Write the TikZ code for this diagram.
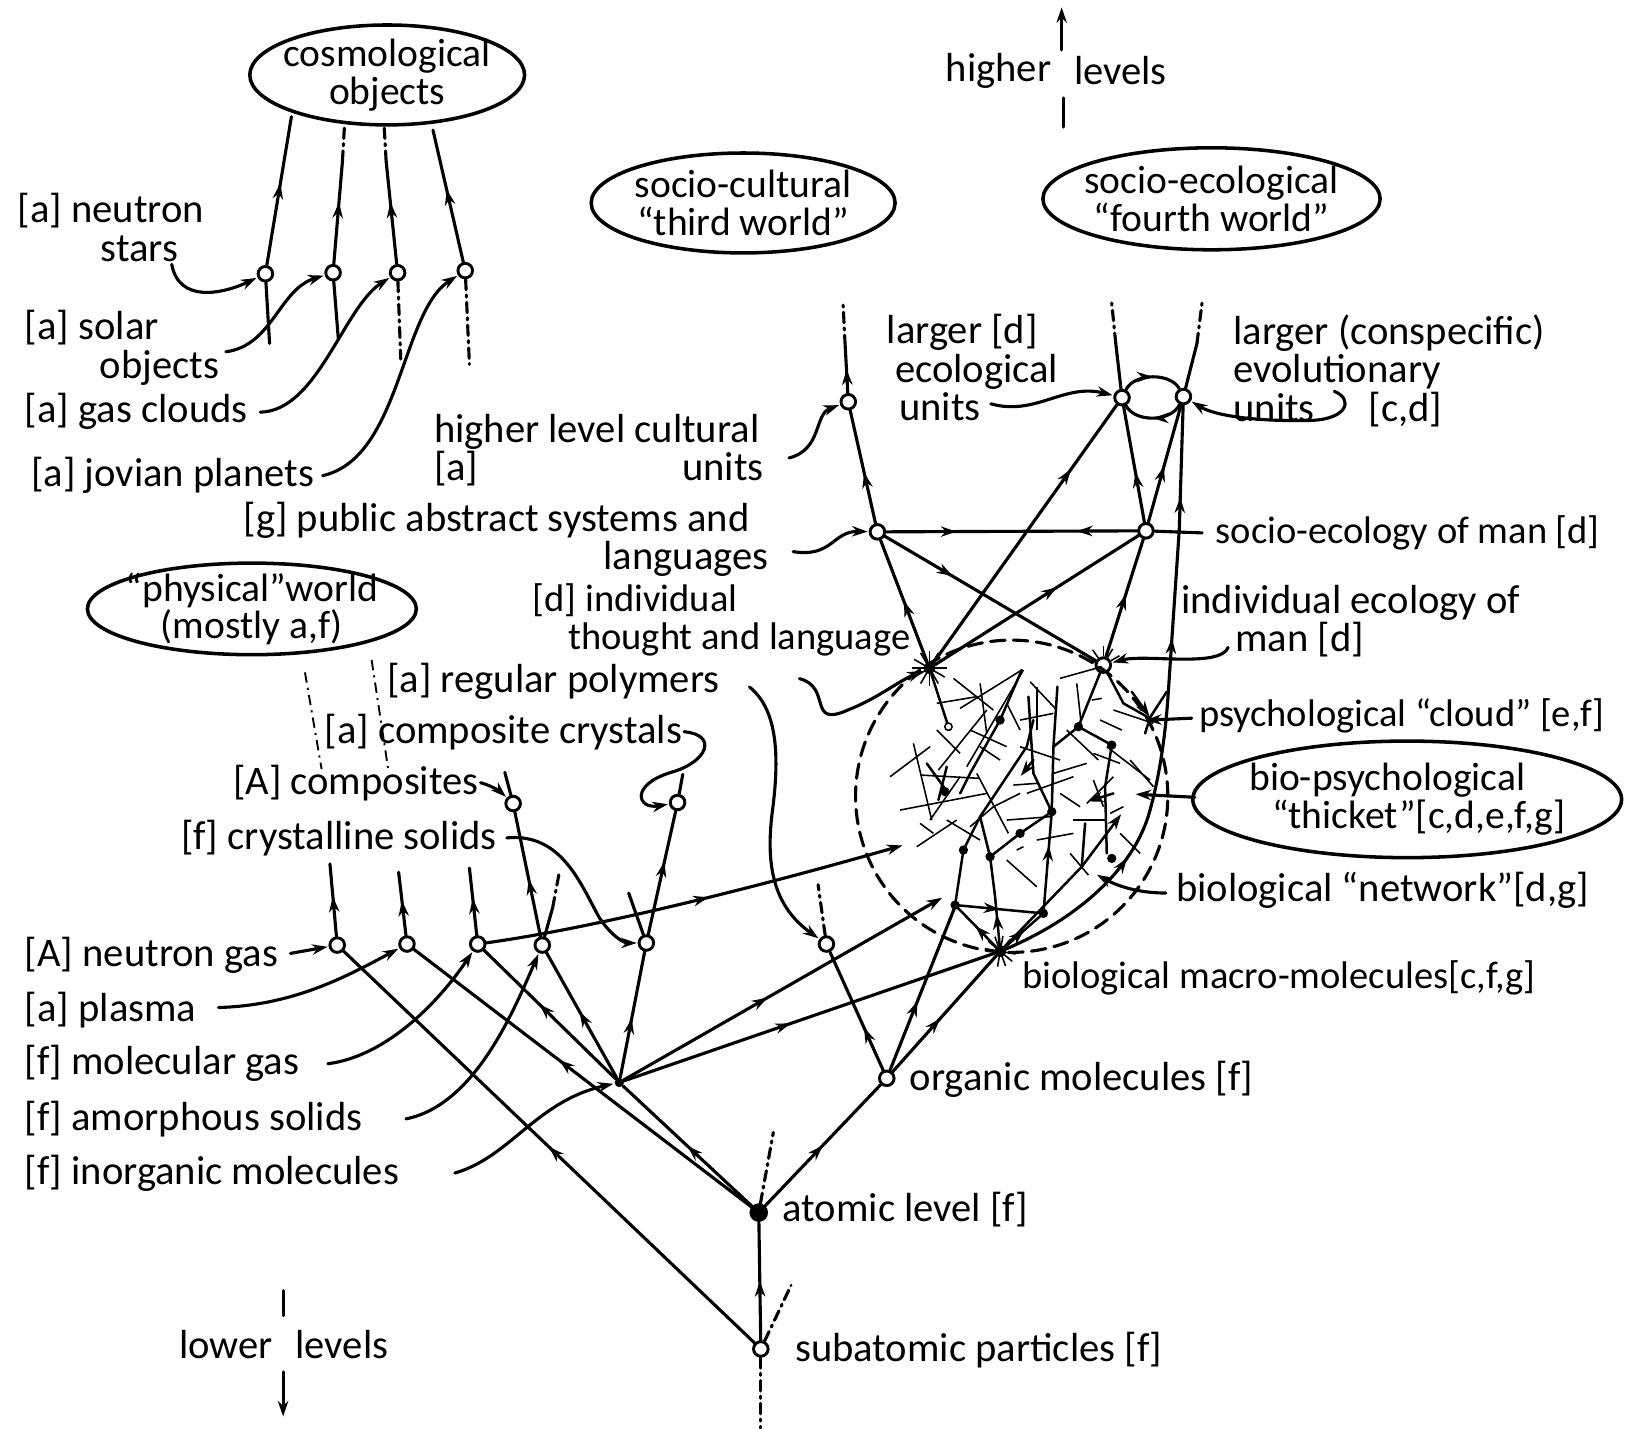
\documentclass[tikz,border=0pt]{standalone}
\usepackage{fontspec}
\setmainfont{Carlito}
\usetikzlibrary{arrows.meta,decorations.markings}
\newcommand\tightls{\lineskiplimit-30pt\relax\lineskip0pt\relax}
\tikzset{
 ln/.style={line width=1.5pt, line cap=round},
 tk/.style={line width=1.2pt, line cap=round},
 tl/.style={line width=0.75pt},
 ol/.style={line width=1.7pt},
 ar/.style={-{Stealth[length=7.5pt,width=5pt]}, shorten >=0.5pt},
 mida/.style={postaction={decorate,decoration={markings,mark=at position #1 with {\arrow{Stealth[length=7.5pt,width=5pt]}}}}},
 mida/.default=0.5,
 midr/.style={postaction={decorate,decoration={markings,mark=at position #1 with {\arrowreversed{Stealth[length=7.5pt,width=5pt]}}}}},
 midr/.default=0.5,
 dd/.style={dash pattern=on 5pt off 2.5pt on 1pt off 2.5pt},
 hub/.style={circle,draw,fill=white,line width=1.4pt,inner sep=0pt,minimum size=7pt},
 hubf/.style={circle,draw,fill=black,line width=1.4pt,inner sep=0pt,minimum size=7.5pt},
 blk/.style={circle,fill=black,inner sep=0pt,minimum size=5.5pt},
 lbl/.style={inner sep=0pt,outer sep=1pt},
 sm/.style={font=\fontsize{18.5}{18}\selectfont\tightls},
 ins/.style={inner sep=0pt,outer sep=1pt,font=\fontsize{19}{18}\selectfont\tightls},
}
\begin{document}
\begin{tikzpicture}[x=0.5pt,y=-0.5pt,font=\fontsize{19.5}{18.5}\selectfont\tightls]
\useasboundingbox (0,0) rectangle (1568,1372);

% ---------- ellipse labels ----------
\node[ins,align=center] (cosmo) at (372,72) {cosmological\\objects};
\draw[ol] (cosmo.center) ellipse [x radius=66pt, y radius=24pt];
\node[ins,align=center] (third) at (714,195) {socio-cultural\\“third world”};
\draw[ol] (third.center) ellipse [x radius=73pt, y radius=24pt];
\node[ins,align=center] (fourth) at (1164,191) {socio-ecological\\“fourth world”};
\draw[ol] (fourth.center) ellipse [x radius=81pt, y radius=24.5pt];
\node[ins,align=center] (phys) at (242,585) {“physical”world\\(mostly a,f)};
\draw[ol] (phys.center) ellipse [x radius=79pt, y radius=22pt];
\node[ins,align=left] (bp) at (1352,768) {bio-psychological\\\hspace*{11pt}“thicket”[c,d,e,f,g]};
\draw[ol] (bp.center) ellipse [x radius=103pt, y radius=28pt];

% ---------- text labels ----------
\node[lbl,anchor=east] (thl1) at (1012,68) {higher};
\node[lbl,anchor=west] (thl2) at (1030,68) {levels};
\node[lbl,anchor=north west,align=left] (tns) at (15,184) {[a] neutron\\\hspace*{40pt}stars};
\node[lbl,anchor=north west,align=left] (tso) at (22,296) {[a] solar\\\hspace*{36pt}objects};
\node[lbl,anchor=west] (tgc) at (22,395) {[a] gas clouds};
\node[lbl,anchor=west] (tjp) at (28,457) {[a] jovian planets};
\node[lbl,anchor=north west,align=left] (tcu) at (415,396) {higher level cultural\\{}[a]\hspace*{98pt}units};
\node[lbl,anchor=north west,align=left] (tpa) at (232,480) {[g] public abstract systems and\\\hspace*{173pt}languages};
\node[lbl,sm,anchor=north west,align=left] (tit) at (510,559) {[d] individual\\\hspace*{17pt}thought and language};
\node[lbl,anchor=west] (trp) at (370,655) {[a] regular polymers};
\node[lbl,anchor=west] (tcc) at (310,703) {[a] composite crystals};
\node[lbl,anchor=west] (tco) at (222,752) {[A] composites};
\node[lbl,anchor=west] (tcr) at (172,805) {[f] crystalline solids};
\node[lbl,anchor=west] (tng) at (22,918) {[A] neutron gas};
\node[lbl,anchor=west] (tpl) at (22,970) {[a] plasma};
\node[lbl,anchor=west] (tmg) at (22,1022) {[f] molecular gas};
\node[lbl,anchor=west] (tam) at (22,1075) {[f] amorphous solids};
\node[lbl,anchor=west] (tim) at (22,1127) {[f] inorganic molecules};
\node[lbl,anchor=east] (tll1) at (264,1292) {lower};
\node[lbl,anchor=west] (tll2) at (282,1292) {levels};
\node[lbl,anchor=west] (tsp) at (762,1297) {subatomic particles [f]};
\node[lbl,anchor=west] (tal) at (750,1162) {atomic level [f]};
\node[lbl,anchor=west] (tom) at (872,1037) {organic molecules [f]};
\node[lbl,sm,anchor=west] (tbm) at (980,940) {biological macro-molecules[c,f,g]};
\node[lbl,anchor=west] (tnw) at (1128,855) {biological “network”[d,g]};
\node[lbl,sm,anchor=west] (tpc) at (1150,688) {psychological “cloud” [e,f]};
\node[lbl,anchor=north west,align=left] (tie) at (1133,560) {individual ecology of\\\hspace*{26pt}man [d]};
\node[lbl,sm,anchor=west] (tse) at (1166,512) {socio-ecology of man [d]};
\node[lbl,anchor=north west,align=left] (tev) at (1183,300) {larger (conspecific)\\evolutionary\\units\hspace*{26pt}[c,d]};
\node[lbl,anchor=north west,align=left] (tet) at (850,300) {larger [d]\\\hspace*{4pt}ecological\\\hspace*{6pt}units};

% ---------- graph nodes ----------
\node[hub] (c1) at (255,263) {};
\node[hub] (c2) at (320,262) {};
\node[hub] (c3) at (382,262) {};
\node[hub] (c4) at (447,260) {};
\node[hub] (CU) at (815,386) {};
\node[hub] (PA) at (843,511) {};
\node[hub] (ET) at (1078,382) {};
\node[hub] (EV) at (1137,381) {};
\node[hub] (SE) at (1101,510) {};
\node[blk] (IT) at (893,642) {};
\node[hub] (IE) at (1060,639) {};
\node[blk] (BM) at (961,914) {};
\node[hub] (OM) at (852,1036) {};
\node[hubf] (AL) at (729,1165) {};
\node[hub] (SP) at (731,1296) {};
\node[blk,minimum size=4.5pt] (IM) at (595,1040) {};
\node[hub] (ng) at (324,908) {};
\node[hub] (pl) at (391,907) {};
\node[hub] (mg) at (459,907) {};
\node[hub] (am) at (521,908) {};
\node[hub] (cr) at (621,906) {};
\node[hub] (co) at (493,772) {};
\node[hub] (cc) at (651,771) {};
\node[hub] (rp) at (794,907) {};

% ---------- free ends ----------
\coordinate (hu1) at (1020,48); \coordinate (hu2) at (1020,6);
\coordinate (hu3) at (1022,94); \coordinate (hu4) at (1022,122);
\coordinate (lo1) at (272,1240); \coordinate (lo2) at (272,1264);
\coordinate (lo3) at (272,1318); \coordinate (lo4) at (272,1362);
\coordinate (c1t) at (280,112); \coordinate (c1b) at (259,330);
\coordinate (c2m) at (329,155); \coordinate (c2t) at (331,120); \coordinate (c2b) at (325,325);
\coordinate (c3m) at (371,155); \coordinate (c3t) at (369,120); \coordinate (c3b) at (385,345);
\coordinate (c4t) at (416,125); \coordinate (c4b) at (451,350);
\coordinate (pns) at (165,254); \coordinate (pso) at (217,338);
\coordinate (pgc) at (250,396); \coordinate (pjp) at (310,457);
\coordinate (pcu) at (758,440); \coordinate (ppa) at (762,530);
\coordinate (pit) at (768,652); \coordinate (pet) at (952,388);
\coordinate (pev) at (1282,376); \coordinate (pie) at (1180,622);
\coordinate (pse) at (1155,512);
\coordinate (ppc) at (1145,690); \coordinate (ppc2) at (1100,692);
\coordinate (bpw) at (1148,766); \coordinate (pbt2) at (1090,763);
\coordinate (pnw) at (1120,858); \coordinate (pnw2) at (1053,840);
\coordinate (png) at (279,916); \coordinate (ppl) at (210,968);
\coordinate (pmg) at (315,1022); \coordinate (pam) at (390,1075);
\coordinate (pim) at (437,1127); \coordinate (pcr) at (487,805);
\coordinate (prp) at (720,660);
\coordinate (cum) at (812,332); \coordinate (cut) at (810,292);
\coordinate (etm) at (1072,330); \coordinate (ett) at (1068,290);
\coordinate (evm) at (1150,330); \coordinate (evt) at (1155,290);
\coordinate (ev1) at (1133,509); \coordinate (ev2) at (1122,672); \coordinate (ev3) at (1103,785);
\coordinate (spu) at (760,1235); \coordinate (spd) at (731,1372);
\coordinate (alu) at (743,1088);
\coordinate (cot) at (485,742); \coordinate (cct) at (656,744);
\coordinate (crs) at (604,858);
\coordinate (ams) at (531,872); \coordinate (amt) at (537,840);
\coordinate (ngt) at (317,830); \coordinate (plt) at (383,838); \coordinate (mgt) at (451,834);
\coordinate (mge) at (868,812); \coordinate (ime) at (906,862);
\coordinate (rpt) at (786,850); \coordinate (td1) at (918,870);
\coordinate (pw1a) at (293,646); \coordinate (pw1b) at (309,739);
\coordinate (pw2a) at (357,634); \coordinate (pw2b) at (373,739);

% ---------- level arrows ----------
\draw[ln,ar] (hu1) -- (hu2);
\draw[ln] (hu3) -- (hu4);
\draw[ln] (lo1) -- (lo2);
\draw[ln,ar] (lo3) -- (lo4);

% ---------- cosmological branch ----------
\draw[ln,mida=0.55] (c1) -- (c1t);
\draw[ln] (c1) -- (c1b);
\draw[ln,mida=0.6] (c2) -- (c2m); \draw[ln,dd] (c2m) -- (c2t);
\draw[ln] (c2) -- (c2b);
\draw[ln,mida=0.6] (c3) -- (c3m); \draw[ln,dd] (c3m) -- (c3t);
\draw[ln,dd] (c3) -- (c3b);
\draw[ln,mida=0.55] (c4) -- (c4t);
\draw[ln,dd] (c4) -- (c4b);
\draw[ln,ar] (pns) .. controls (172,292) and (215,282) .. (c1);
\draw[ln,ar] (pso) .. controls (262,332) and (268,278) .. (c2);
\draw[ln,ar] (pgc) .. controls (305,395) and (330,295) .. (c3);
\draw[ln,ar] (pjp) .. controls (385,440) and (385,300) .. (c4);

% ---------- physical world lines ----------
\draw[line width=0.9pt,dd] (pw1a) -- (pw1b);
\draw[line width=0.9pt,dd] (pw2a) -- (pw2b);

% ---------- upper network ----------
\draw[ln,mida=0.5] (CU) -- (cum); \draw[ln,dd] (cum) -- (cut);
\draw[ln] (ET) -- (etm); \draw[ln,dd] (etm) -- (ett);
\draw[ln] (EV) -- (evm); \draw[ln,dd] (evm) -- (evt);
\draw[ln,mida=0.5] (ET) .. controls (1090,358) and (1125,358) .. (EV);
\draw[ln,mida=0.5] (EV) .. controls (1125,406) and (1090,406) .. (ET);
\draw[ln,mida=0.45] (PA) -- (CU);
\draw[ln,mida=0.5] (IT) -- (PA);
\draw[ln,mida=0.6] (IT) -- (SE);
\draw[ln,mida=0.32] (PA) -- (IE);
\draw[ln,mida=0.28,midr=0.76] (PA) -- (SE);
\draw[ln,mida=0.75] (IT) -- (ET);
\draw[ln,mida=0.53] (IE) -- (SE);
\draw[ln,mida=0.43] (SE) -- (ET);
\draw[ln,mida=0.48] (SE) -- (EV);
\draw[ln,mida=0.25,mida=0.62,mida=0.85] (BM) .. controls (1030,885) and (1085,840) .. (ev3) .. controls (1115,745) and (1120,700) .. (ev2) -- (ev1) -- (EV);
\draw[ln] (pse) -- (SE);
\draw[ln,ar] (pcu) .. controls (790,432) and (782,398) .. (CU);
\draw[ln,ar] (ppa) .. controls (800,536) and (800,510) .. (PA);
\draw[ln,ar] (pit) .. controls (800,660) and (775,700) .. (815,682) .. controls (845,670) and (862,655) .. (IT);
\draw[ln,ar] (pet) .. controls (995,400) and (1022,368) .. (ET);
\draw[ln,ar] (pev) .. controls (1300,383) and (1296,403) .. (1258,404) .. controls (1210,405) and (1168,400) .. (EV);
\draw[ln,ar] (pie) .. controls (1172,642) and (1100,628) .. (IE);
\draw[ln,ar] (ppc) -- (ppc2);
\draw[ln,ar] (bpw) -- (pbt2);
\draw[ln,ar] (pnw) .. controls (1095,858) and (1075,852) .. (pnw2);

% ---------- thicket ----------
\draw[ln,dash pattern=on 7pt off 4pt] (972,765) ellipse [x radius=75pt, y radius=75pt];
\foreach \a in {0,30,...,330} \draw[tl] (IT.center) -- +(\a:17);
\foreach \a in {10,40,...,340} \draw[tl] (BM.center) -- +(\a:15);
\foreach \a in {200,235,270,300,330} \draw[tl] (IE) -- +(\a:18);
\begin{scope}[shift={(787.9,595.7)},scale=0.3203]
\draw[tk,mida=0.5] (BM) -- (405,855);
\draw[tk] (405,855) -- (430,690) -- (480,590) -- (560,470) -- (620,380) -- (640,300);
\draw[tk,mida=0.35] (BM) -- (525,830) -- (510,710);
\draw[tk] (510,710) -- (480,590);
\draw[tk] (510,710) -- (600,640) -- (695,575);
\draw[tk,mida=0.5] (BM) -- (670,880);
\draw[tk,mida=0.5] (405,855) -- (670,880);
\draw[tk,mida=0.3] (670,880) -- (695,575) -- (700,380) -- (712,200);
\draw[tk] (695,575) -- (640,460) -- (625,230);
\draw[tk,ar] (BM) -- (785,740) -- (905,580);
\draw[tk] (785,740) -- (795,610);
\draw[tk] (775,320) -- (IE);
\draw[tk] (875,375) -- (775,320) -- (700,380);
\draw[tk] (875,375) -- (855,500) -- (860,700);
\draw[tk] (540,300) -- (605,150);
\draw[tk] (540,300) -- (450,460) -- (420,520);
\draw[tk] (IT) -- (385,320);
\draw[tk] (320,430) -- (385,520);
\draw[tk] (380,440) -- (355,540);
\draw[tk] (IE) -- (910,250) -- (990,295);
\draw[tk,ar] (935,215) -- (990,292);
\draw[tk] (990,292) -- (1040,215);
\draw[tk] (990,292) -- (975,340);
\draw[tk,ar] (880,520) -- (800,545);
\draw[tk,ar] (640,420) -- (600,470);
\foreach \a/\b/\c/\d in {240/570/500/520, 210/470/330/380, 280/370/335/600, 300/465/480/475,
  400/175/520/270, 420/265/605/150, 480/190/500/340, 630/185/710/270, 500/270/355/450,
  470/460/565/640, 560/600/690/590, 580/495/650/490, 440/440/610/150, 720/175/845/140,
  770/190/782/300, 815/240/845/235, 740/330/835/420, 800/550/880/470, 860/380/990/480,
  820/400/900/430, 930/420/1000/500, 880/270/1000/310, 840/300/905/330, 750/700/805/765,
  290/680/410/600, 600/380/720/420, 650/200/650/330, 760/600/860/600, 300/610/340/640,
  870/580/910/560, 560/250/600/330, 350/250/470/230, 330/600/420/470, 450/330/560/380,
  520/560/600/520, 620/520/760/470, 700/460/800/430, 650/660/760/640, 560/720/650/800,
  450/620/520/560, 380/600/480/660, 720/520/780/560, 820/480/850/560, 900/640/960/700,
  600/300/700/280, 350/330/420/400, 480/380/540/420, 590/690/610/680}
  \draw[tl] (\a,\b) -- (\c,\d);
\foreach \p in {(540,300),(775,320),(875,375),(375,515),(695,575),(600,640),(430,690),(510,710),(405,855),(670,880),(875,715)}
  \fill \p circle[radius=14];
\draw[tl,fill=white] (385,320) circle[radius=11];
\end{scope}

% ---------- lower network ----------
\draw[ln,mida=0.5] (SP) -- (AL);
\draw[ln,mida=0.5] (SP) -- (ng);
\draw[ln,dd] (SP) -- (spu);
\draw[ln,dd] (SP) -- (spd);
\draw[ln,dd] (AL) -- (alu);
\draw[ln,mida=0.5] (AL) -- (OM);
\draw[ln,mida=0.5] (AL) -- (IM);
\draw[ln,mida=0.57] (AL) -- (pl);
\draw[ln,mida=0.58] (IM) -- (mg);
\draw[ln,mida=0.53] (IM) -- (am);
\draw[ln,mida=0.47] (IM) -- (cr);
\draw[ln,mida=0.46] (am) -- (co);
\draw[ln,mida=0.59] (cr) -- (cc);
\draw[ln] (co) -- (cot);
\draw[ln] (cc) -- (cct);
\draw[ln] (cr) -- (crs);
\draw[ln] (am) -- (ams); \draw[ln,dd] (ams) -- (amt);
\draw[ln,mida=0.55] (ng) -- (ngt);
\draw[ln,mida=0.55] (pl) -- (plt);
\draw[ln,mida=0.55] (mg) -- (mgt);
\draw[ln,ar,mida=0.53] (mg) .. controls (560,893) and (700,860) .. (mge);
\draw[ln,ar,mida=0.45] (IM) -- (ime);
\draw[ln,mida=0.45] (IM) -- (BM);
\draw[ln,mida=0.36] (OM) -- (rp);
\draw[ln,dd] (rp) -- (rpt);
\draw[ln,mida=0.46] (OM) -- (BM);
\draw[ln,mida=0.42] (OM) -- (td1);
\draw[ln,ar] (png) -- (ng);
\draw[ln,ar] (ppl) .. controls (280,966) and (330,940) .. (pl);
\draw[ln,ar] (pmg) .. controls (370,1015) and (420,965) .. (mg);
\draw[ln,ar] (pam) .. controls (455,1062) and (492,975) .. (am);
\draw[ln,ar] (pim) .. controls (490,1112) and (515,1058) .. (IM);
\draw[ln,ar] (pcr) .. controls (540,800) and (558,850) .. (576,882) .. controls (588,900) and (600,906) .. (cr);
\draw[ln,ar] (tco.east) .. controls (470,754) and (480,760) .. (co);
\draw[ln,ar] (tcc.east) .. controls (690,706) and (680,732) .. (645,742) .. controls (605,754) and (612,778) .. (cc);
\draw[ln,ar] (prp) .. controls (745,680) and (750,720) .. (742,780) .. controls (735,835) and (745,872) .. (rp);
\end{tikzpicture}
\end{document}
